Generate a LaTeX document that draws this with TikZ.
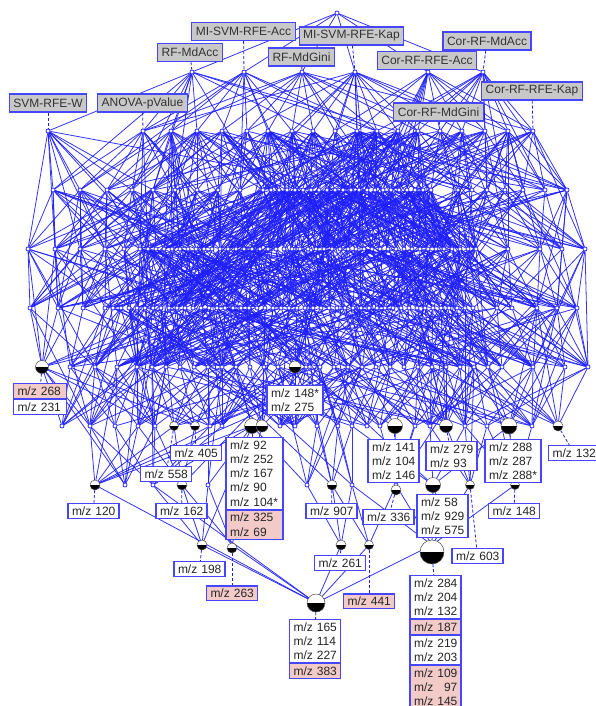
\documentclass[tikz,border=0pt]{standalone}
\usepackage{fontspec}
\setmainfont{Liberation Sans}
\usetikzlibrary{positioning,backgrounds}

\definecolor{latblue}{RGB}{30,30,255}
\definecolor{boxblue}{RGB}{70,70,255}
\definecolor{attrgray}{RGB}{200,200,200}
\definecolor{pinkrow}{RGB}{242,202,200}

\tikzset{
  lat node/.style={circle, draw=latblue, fill=white, line width=0.7pt, inner sep=0pt, minimum size=4pt},
  half node/.style={circle, draw=black!70, line width=0.5pt, fill=white, inner sep=0pt, minimum size=#1pt,
    path picture={\fill[black] (path picture bounding box.west) rectangle (path picture bounding box.south east);}},
  lat edge/.style={draw=latblue, line width=0.8pt, opacity=0.9},
  tie/.style={draw=latblue, line width=0.8pt, dash pattern=on 3pt off 2pt},
  attr/.style={draw=boxblue, line width=1.1pt, fill=attrgray, text=black!80, inner xsep=4pt, inner ysep=0pt,
    minimum height=18pt, font=\fontsize{12}{14.3}\selectfont},
  obj/.style={draw=boxblue, line width=1.1pt, fill=white, text=black!85, inner xsep=4pt, inner ysep=3pt,
    text width=43pt, align=left, font=\fontsize{12}{14.2}\selectfont},
  obj pink/.style={obj, fill=pinkrow}
}
\newcommand\mz[1]{m/z~#1}

\def\rowA{337}
\def\rowB{192,244,302,355,428,483}
\def\rowC{48,143,171,197,222,247,268,292,313,335,357,377,398,418,440,462,485,508,533}
\def\rowD{53,80,107,132,153,175,197,218,240,263,271,...,431,458,472,487,505,523,545,567}
\def\rowE{28,55,80,105,124,140,148,...,476,508,540,562,585}
\def\rowF{30,58,83,105,113,...,473,497,512,537,557,577}
\def\rowG{42,70,95,117,137,152,166,...,278,295,306,320,...,502,533,565,588}
\def\rowH{62,90,115,138,155,174,195,210,222,252,262,280,295,317,338,352,367,380,395,415,430,446,465,487,509,532,558}
\def\rowI{95,125,153,182,208,307,332,352,396,433,470,515}
\def\rowJ{202,232,341,369,432}
\def\rowK{316}

\newcommand\placerow[3]{%
  \foreach \x [count=\i] in #3 {\node[lat node] (#1-\i) at (\x,#2) {};}}

\newcommand\linkrows[6]{%
  \foreach \xb [count=\i] in #2 {%
    \gdef\wsum{0}%
    \foreach \xa in #4 {%
      \pgfmathparse{\wsum+exp(-min(abs(\xa-\xb)/#6,9))}\xdef\wsum{\pgfmathresult}}%
    \foreach \xa [count=\j] in #4 {%
      \pgfmathtruncatemacro\hit{rnd<#5*exp(-min(abs(\xa-\xb)/#6,9))/\wsum}%
      \ifnum\hit>0 \draw[lat edge] (#1-\i) -- (#3-\j);\fi}}}

\begin{document}
\begin{tikzpicture}[x=1pt, y=-1pt]
\useasboundingbox (0,0) rectangle (595,706);
\pgfmathsetseed{7}

\placerow{rA}{13}{\rowA}
\placerow{rB}{72}{\rowB}
\placerow{rC}{131}{\rowC}
\placerow{rD}{190}{\rowD}
\placerow{rE}{249}{\rowE}
\placerow{rF}{308}{\rowF}
\placerow{rG}{367}{\rowG}
\placerow{rH}{426}{\rowH}
\placerow{rI}{485}{\rowI}
\placerow{rJ}{545}{\rowJ}
\placerow{rK}{603}{\rowK}

\node[half node=13] (h268) at (rG-1) {};
\node[half node=12] (h148s) at (rG-16) {};
\node[half node=9] (h558) at (rH-6) {};
\node[half node=9] (h405) at (rH-7) {};
\node[half node=15] (h92) at (rH-10) {};
\node[half node=12] (h92b) at (rH-11) {};
\node[half node=15] (h141) at (rH-19) {};
\node[half node=13] (h279) at (rH-22) {};
\node[half node=16] (h288) at (rH-25) {};
\node[half node=10] (h132) at (rH-27) {};
\node[half node=10] (h120) at (rI-1) {};
\node[half node=10] (h162) at (rI-4) {};
\node[half node=10] (h907) at (rI-7) {};
\node[half node=10] (h336) at ([yshift=-5pt]rI-9) {};
\node[half node=15] (h58) at (rI-10) {};
\node[half node=9] (h603) at (rI-11) {};
\node[half node=9] (h148) at (rI-12) {};
\node[half node=10] (h198) at (rJ-1) {};
\node[half node=10] (h263) at ([yshift=-3pt]rJ-2) {};
\node[half node=10] (h261) at (rJ-3) {};
\node[half node=9] (h441) at (rJ-4) {};
\node[half node=24] (h284) at ([yshift=-7pt]rJ-5) {};
\node[half node=18] (h165) at (rK-1) {};

\node[attr] (aSVM) at (48,103) {SVM-RFE-W};
\node[attr] (aANOVA) at (142.5,103) {ANOVA-pValue};
\node[attr] (aRFAcc) at (190,52.5) {RF-MdAcc};
\node[attr] (aMIAcc) at (243.5,31.5) {MI-SVM-RFE-Acc};
\node[attr] (aRFGini) at (301.5,57) {RF-MdGini};
\node[attr] (aMIKap) at (351.5,36) {MI-SVM-RFE-Kap};
\node[attr] (aCorRFEAcc) at (427,60.5) {Cor-RF-RFE-Acc};
\node[attr] (aCorAcc) at (487,41) {Cor-RF-MdAcc};
\node[attr] (aCorRFEKap) at (532,91) {Cor-RF-RFE-Kap};
\node[attr] (aCorGini) at (438.5,112) {Cor-RF-MdGini};

\draw[tie] (aSVM) -- (rC-1);
\draw[tie] (aANOVA) -- (rC-2);
\draw[tie] (aRFAcc) -- (rB-1);
\draw[tie] (aMIAcc) -- (rB-2);
\draw[tie] (aRFGini) -- (rB-3);
\draw[tie] (aMIKap) -- (rB-4);
\draw[tie] (aCorRFEAcc) -- (rB-5);
\draw[tie] (aCorAcc) -- (rB-6);
\draw[tie] (aCorRFEKap) -- (rC-19);
\draw[tie] (aCorGini) -- (rC-15);

\node[obj pink, anchor=north, text width=45pt] (l268) at (40,383) {\mz{268}};
\node[obj, below=0pt of l268, text width=45pt] (l231) {\mz{231}};
\node[obj, anchor=north, text width=48pt] (l148s) at (295,385) {\mz{148*}\\\mz{275}};
\node[obj, anchor=north] (l405) at (196,445) {\mz{405}};
\node[obj, anchor=north] (l558) at (166,466) {\mz{558}};
\node[obj, anchor=north, text width=49pt] (l92) at (254.5,437) {\mz{92}\\\mz{252}\\\mz{167}\\\mz{90}\\\mz{104*}};
\node[obj pink, below=0pt of l92, text width=49pt] (l325) {\mz{325}\\\mz{69}};
\node[obj, anchor=north] (l141) at (393.5,439) {\mz{141}\\\mz{104}\\\mz{146}};
\node[obj, anchor=north] (l279) at (451.5,441) {\mz{279}\\\mz{93}};
\node[obj, anchor=north, text width=48pt] (l288) at (513,439) {\mz{288}\\\mz{287}\\\mz{288*}};
\node[obj, anchor=north west] (l132) at (548,445) {\mz{132}};
\node[obj, anchor=north] (l120) at (93.5,503) {\mz{120}};
\node[obj, anchor=north] (l162) at (181.5,503) {\mz{162}};
\node[obj, anchor=north] (l907) at (331.5,503) {\mz{907}};
\node[obj, anchor=north] (l336) at (388.5,509) {\mz{336}};
\node[obj, anchor=north] (l58) at (442.5,494) {\mz{58}\\\mz{929}\\\mz{575}};
\node[obj, anchor=north] (l603) at (477.5,548) {\mz{603}};
\node[obj, anchor=north] (l148) at (514,503) {\mz{148}};
\node[obj, anchor=north] (l198) at (199.5,561) {\mz{198}};
\node[obj pink, anchor=north, line width=1.6pt] (l263) at (232,585) {\mz{263}};
\node[obj, anchor=north] (l261) at (340,555) {\mz{261}};
\node[obj pink, anchor=north, line width=1.6pt] (l441) at (369,593) {\mz{441}};
\node[obj, anchor=north] (l284) at (435.5,575) {\mz{284}\\\mz{204}\\\mz{132}};
\node[obj pink, below=0pt of l284] (l187) {\mz{187}};
\node[obj, below=0pt of l187] (l219) {\mz{219}\\\mz{203}};
\node[obj pink, below=0pt of l219] (l109) {\mz{109}\\\mz{\phantom{1}97}\\\mz{145}};
\node[obj, anchor=north] (l165) at (315,619) {\mz{165}\\\mz{114}\\\mz{227}};
\node[obj pink, below=0pt of l165] (l383) {\mz{383}};

\foreach \h/\l in {h268/l268, h148s/l148s, h405/l405, h558/l558, h92/l92, h141/l141, h279/l279,
    h288/l288, h132/l132, h120/l120, h162/l162, h907/l907, h336/l336, h58/l58, h603/l603,
    h148/l148, h198/l198, h263/l263, h261/l261, h441/l441, h284/l284, h165/l165}
  \draw[tie] (\h) -- (\l);

\begin{scope}[on background layer]
\linkrows{rB}{\rowB}{rA}{\rowA}{1}{100}
\linkrows{rC}{\rowC}{rB}{\rowB}{3}{80}
\linkrows{rD}{\rowD}{rC}{\rowC}{4}{80}
\linkrows{rD}{\rowD}{rB}{\rowB}{0.8}{100}
\linkrows{rE}{\rowE}{rD}{\rowD}{5}{85}
\linkrows{rE}{\rowE}{rC}{\rowC}{2}{100}
\linkrows{rF}{\rowF}{rE}{\rowE}{5}{85}
\linkrows{rF}{\rowF}{rD}{\rowD}{2}{100}
\linkrows{rG}{\rowG}{rF}{\rowF}{6}{80}
\linkrows{rG}{\rowG}{rE}{\rowE}{2.5}{90}
\linkrows{rH}{\rowH}{rG}{\rowG}{5}{65}
\linkrows{rH}{\rowH}{rF}{\rowF}{2}{80}
\linkrows{rI}{\rowI}{rH}{\rowH}{3.5}{50}
\linkrows{rI}{\rowI}{rG}{\rowG}{1.5}{70}
\foreach \a/\b in {rK-1/rJ-1, rK-1/rJ-2, rK-1/rJ-3, rK-1/rJ-4, rK-1/rJ-5, rK-1/rI-1, rK-1/rI-3,
    rJ-1/rI-3, rJ-1/rI-4, rJ-1/rI-5, rJ-1/rH-10, rJ-2/rI-4, rJ-2/rI-5, rJ-2/rH-11,
    rJ-3/rI-6, rJ-3/rI-7, rJ-3/rI-8, rJ-4/rI-7, rJ-4/rI-8, rJ-4/rI-9,
    rJ-5/rI-8, rJ-5/rI-9, rJ-5/rI-10, rJ-5/rI-11, rJ-5/rI-12}
  \draw[lat edge] (\a) -- (\b);
\end{scope}
\end{tikzpicture}
\end{document}
